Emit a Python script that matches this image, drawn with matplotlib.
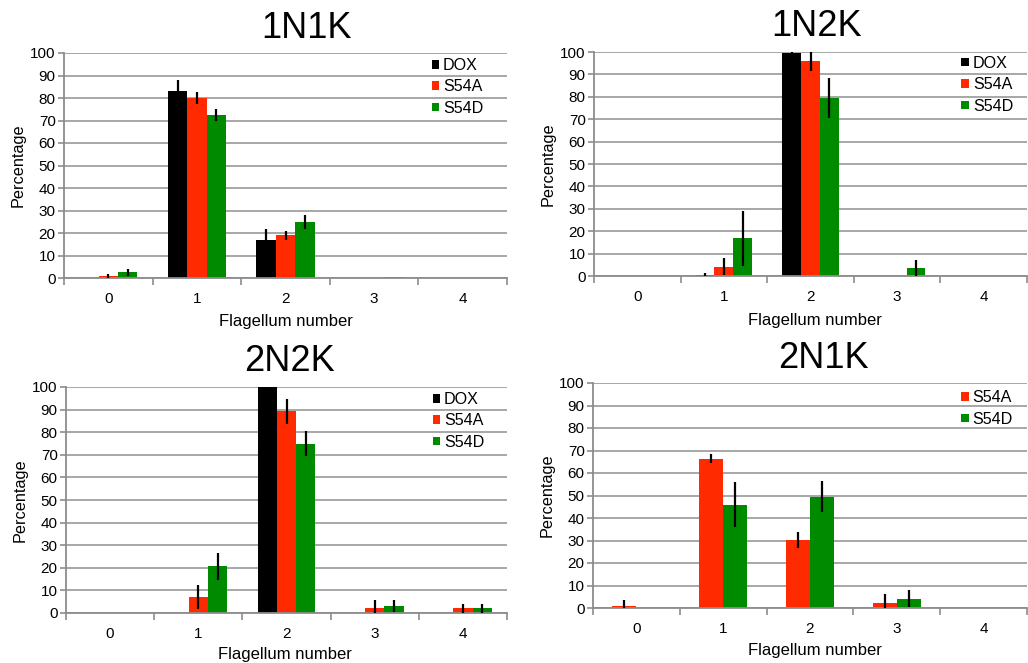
import numpy as np
import matplotlib
matplotlib.use('Agg')
import matplotlib.pyplot as plt

plt.rcParams['font.family'] = ['Liberation Sans', 'DejaVu Sans']

flagella = [0, 1, 2, 3, 4]
colors = {'DOX': '#000000', 'S54A': '#ff2a00', 'S54D': '#008a00'}

# 1N1K
n1k1_dox = [0, 83, 17, 0, 0]
n1k1_dox_err = [0, 5, 5, 0, 0]
n1k1_s54a = [1, 80, 19, 0, 0]
n1k1_s54a_err = [1, 2.5, 2, 0, 0]
n1k1_s54d = [2.5, 72.5, 25, 0.3, 0]
n1k1_s54d_err = [1.4, 2.5, 3, 0, 0]

# 1N2K
n1k2_dox = [0, 0.5, 99.5, 0, 0]
n1k2_dox_err = [0, 1, 1, 0, 0]
n1k2_s54a = [0, 4.2, 95.8, 0, 0]
n1k2_s54a_err = [0, 3.8, 4.2, 0, 0]
n1k2_s54d = [0, 16.8, 79.5, 3.5, 0]
n1k2_s54d_err = [0, 12.3, 9, 3.7, 0]

# 2N2K
n2k2_dox = [0, 0, 100, 0, 0]
n2k2_dox_err = [0, 0, 0, 0, 0]
n2k2_s54a = [0, 7, 89.2, 2, 2]
n2k2_s54a_err = [0, 5.3, 5.7, 3.7, 1.8]
n2k2_s54d = [0, 20.6, 75, 3.2, 2]
n2k2_s54d_err = [0, 5.8, 5.5, 2.7, 1.8]

# 2N1K
n2k1_s54a = [1, 66.4, 30.2, 2.2, 0]
n2k1_s54a_err = [2.4, 1.9, 3.5, 4.2, 0]
n2k1_s54d = [0, 45.9, 49.5, 4.2, 0]
n2k1_s54d_err = [0, 10, 7, 3.7, 0]


def panel(ax, series, title, title_xy, xlabel_xy, leg_xy):
    x = np.arange(len(flagella))
    n = len(series)
    width = 1 / (n + 1.58)
    offsets = (np.arange(n) - (n - 1) / 2) * width
    for (name, vals, errs), off in zip(series, offsets):
        ax.bar(x + off, vals, width, color=colors[name], label=name, zorder=2)
        errs = np.array(errs, dtype=float)
        m = errs > 0
        ax.errorbar((x + off)[m], np.array(vals)[m], yerr=errs[m], fmt='none',
                    ecolor='black', elinewidth=1.6, capsize=0, zorder=3)

    ax.set_xlim(-0.5, 4.5)
    ax.set_ylim(0, 100)
    ax.set_yticks(range(0, 101, 10))
    ax.set_xticks(x)
    ax.set_xticklabels([str(f) for f in flagella])
    ax.set_xticks(np.arange(-0.5, 5, 1), minor=True)
    ax.tick_params(axis='x', which='major', length=0, pad=10, labelsize=11)
    ax.tick_params(axis='x', which='minor', length=5, width=1.2, color='#8c8c8c', direction='out')
    ax.tick_params(axis='y', length=4, width=1.2, color='#8c8c8c', labelsize=11, pad=2)
    ax.grid(axis='y', color='#a0a0a0', linewidth=1.3, zorder=0)
    ax.set_axisbelow(True)
    for s in ['top', 'right']:
        ax.spines[s].set_visible(False)
    for s in ['left', 'bottom']:
        ax.spines[s].set_color('#8c8c8c')
        ax.spines[s].set_linewidth(1.3)
    ax.set_ylabel('Percentage', fontsize=11.7, labelpad=3)

    fig.text(title_xy[0] / 1028, 1 - title_xy[1] / 663, title, fontsize=26,
             ha='center', va='center')
    fig.text(xlabel_xy[0] / 1028, 1 - xlabel_xy[1] / 663, 'Flagellum number',
             fontsize=12, ha='center', va='center')

    ax.legend(loc='upper left', bbox_to_anchor=leg_xy, frameon=False,
              fontsize=11.6, handlelength=0.45, handleheight=0.45,
              handletextpad=0.25, labelspacing=0.4, borderaxespad=0, borderpad=0.1)


fig = plt.figure(figsize=(10.28, 6.63), dpi=100)

ax1 = fig.add_axes([64 / 1028, 1 - 278 / 663, 443 / 1028, 225 / 663])
panel(ax1, [('DOX', n1k1_dox, n1k1_dox_err),
            ('S54A', n1k1_s54a, n1k1_s54a_err),
            ('S54D', n1k1_s54d, n1k1_s54d_err)],
      '1N1K', (306, 29), (286, 321), (0.826, 0.985))

ax2 = fig.add_axes([594 / 1028, 1 - 276 / 663, 433 / 1028, 224 / 663])
panel(ax2, [('DOX', n1k2_dox, n1k2_dox_err),
            ('S54A', n1k2_s54a, n1k2_s54a_err),
            ('S54D', n1k2_s54d, n1k2_s54d_err)],
      '1N2K', (817, 27), (815, 320), (0.845, 0.99))

ax3 = fig.add_axes([66 / 1028, 1 - 613 / 663, 441 / 1028, 226 / 663])
panel(ax3, [('DOX', n2k2_dox, n2k2_dox_err),
            ('S54A', n2k2_s54a, n2k2_s54a_err),
            ('S54D', n2k2_s54d, n2k2_s54d_err)],
      '2N2K', (289, 362), (285, 655), (0.828, 0.985))

ax4 = fig.add_axes([593 / 1028, 1 - 608 / 663, 434 / 1028, 225 / 663])
panel(ax4, [('S54A', n2k1_s54a, n2k1_s54a_err),
            ('S54D', n2k1_s54d, n2k1_s54d_err)],
      '2N1K', (823, 359), (815, 650), (0.845, 0.975))

fig.savefig('out.png', dpi=100)
